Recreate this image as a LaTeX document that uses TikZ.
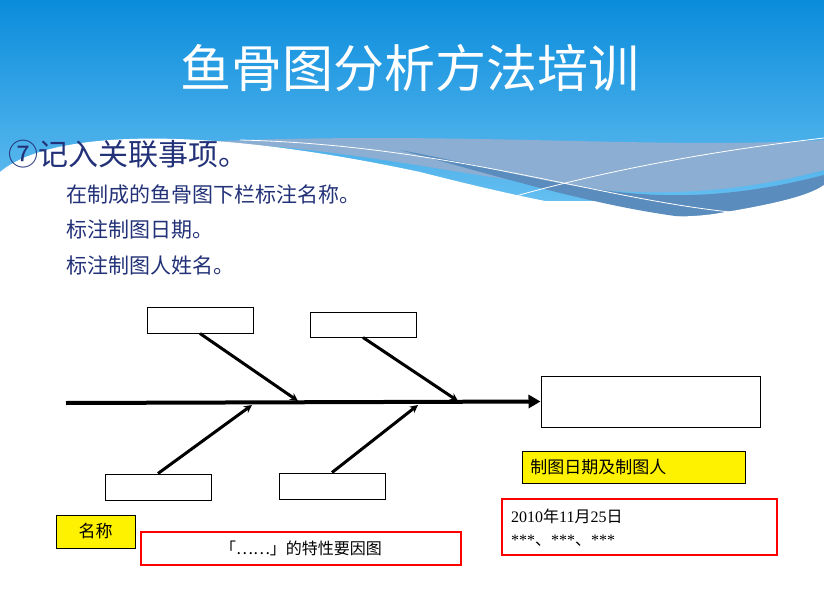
\documentclass[tikz,border=0pt]{standalone}
\usepackage{fontspec}
\setmainfont{Liberation Serif}
\newfontfamily\cjk{Noto Sans CJK SC}
\usetikzlibrary{arrows.meta}
\definecolor{navy}{RGB}{35,50,120}
\definecolor{topblue}{RGB}{10,140,220}
\definecolor{midblue}{RGB}{100,190,240}
\definecolor{band}{RGB}{90,140,190}
\tikzset{
  wbox/.style={draw=black,line width=1pt,fill=white},
  ybox/.style={draw=black,line width=0.8pt,fill=yellow,inner sep=0pt},
  rbox/.style={draw=red,line width=1.2pt,fill=white,inner sep=0pt},
  bone/.style={line width=3pt,-{Stealth[length=8pt,width=8pt]}},
}
\begin{document}
\begin{tikzpicture}[x=1pt,y=-1pt]
\useasboundingbox (0,0) rectangle (824,615);
\fill[white] (0,0) rectangle (824,615);
% sky
\shade[top color=topblue,bottom color=midblue] (0,0) -- (824,0) -- (824,200) -- (0,200) -- cycle;
% bands
\fill[band!70] (200,142) .. controls (450,150) and (600,230) .. (824,170) -- (824,140) .. controls (650,150) and (450,130) .. cycle;
\fill[band] (400,150) .. controls (560,180) and (650,220) .. (824,175) -- (824,215) .. controls (700,240) and (550,190) .. cycle;
% white wave
\fill[white] (0,172) .. controls (50,130) and (200,125) .. (420,172) .. controls (550,205) and (650,225) .. (720,213) .. controls (780,203) and (810,195) .. (824,185) -- (824,615) -- (0,615) -- cycle;
\draw[white,line width=0.8pt] (240,140) .. controls (450,145) and (600,200) .. (740,213);
\draw[white,line width=0.8pt] (485,205) .. controls (600,170) and (720,150) .. (824,138);
% texts
\node[white,font=\cjk\fontsize{51}{56}\selectfont] (title) at (410,68) {鱼骨图分析方法培训};
\node[navy,anchor=west,font=\cjk\fontsize{30}{32}\selectfont,inner sep=0pt] (h) at (8,154) {⑦记入关联事项。};
\node[navy,anchor=west,font=\cjk\fontsize{21}{24}\selectfont,inner sep=0pt] (l1) at (66,195) {在制成的鱼骨图下栏标注名称。};
\node[navy,anchor=west,font=\cjk\fontsize{21}{24}\selectfont,inner sep=0pt] (l2) at (66,230) {标注制图日期。};
\node[navy,anchor=west,font=\cjk\fontsize{21}{24}\selectfont,inner sep=0pt] (l3) at (66,265) {标注制图人姓名。};
% boxes
\node[wbox,minimum width=106pt,minimum height=26pt] (t1) at (200,320) {};
\node[wbox,minimum width=106pt,minimum height=25pt] (t2) at (363,324.5) {};
\node[wbox,minimum width=106pt,minimum height=26pt] (b1) at (158,487) {};
\node[wbox,minimum width=106pt,minimum height=26pt] (b2) at (332,486) {};
\node[wbox,minimum width=219pt,minimum height=51pt] (head) at (650.5,401.5) {};
\coordinate (tail) at (66,403);
\draw[line width=4pt,-{Triangle[length=12pt,width=13pt]}] (tail) -- (head.west);
\coordinate (p1) at (298,401);
\coordinate (p2) at (458,401);
\coordinate (p3) at (252,405);
\coordinate (p4) at (418,405);
\draw[bone] (t1.south) -- (p1);
\draw[bone] (t2.south) -- (p2);
\draw[bone] (b1.north) -- (p3);
\draw[bone] (b2.north) -- (p4);
% labels
\node[ybox,minimum width=223pt,minimum height=32pt,font=\cjk\fontsize{17}{20}\selectfont,anchor=west,text width=215pt,align=left] (date) at (522,467) {\hspace*{4pt}制图日期及制图人};
\node[ybox,minimum width=79pt,minimum height=33pt,font=\cjk\fontsize{17}{20}\selectfont] (name) at (95.5,531.5) {名称};
\node[rbox,minimum width=320pt,minimum height=33pt,font=\cjk\fontsize{16}{20}\selectfont] (cap) at (301,548.5) {「……」的特性要因图};
\node[rbox,minimum width=275pt,minimum height=56pt] (who) at (639.5,527) {};
\node[anchor=north west,inner sep=0pt,align=left,font=\fontsize{16}{23}\selectfont] (whot) at (511,509) {2010{\cjk 年}11{\cjk 月}25{\cjk 日}\\***{\cjk 、}***{\cjk 、}***};
\end{tikzpicture}
\end{document}
